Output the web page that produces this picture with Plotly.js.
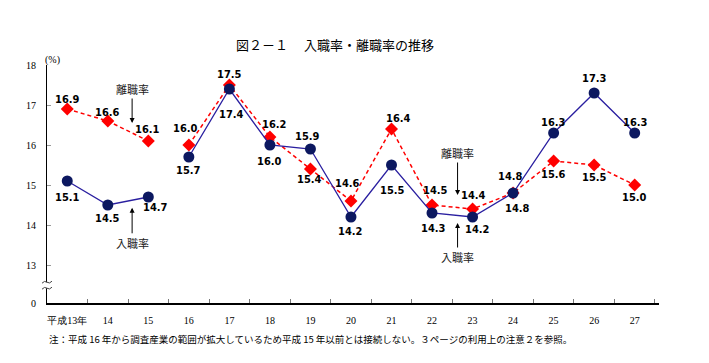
<!DOCTYPE html>
<html>
<head>
<meta charset="utf-8">
<script src="https://cdn.plot.ly/plotly-3.0.1.min.js"></script>
<style>html,body{margin:0;padding:0;background:#fff;}#chart{width:709px;height:363px;}</style>
</head>
<body>
<div id="chart"></div>
<script>
// ---- data ----
const categories = ['平成13年','14','15','16','17','18','19','20','21','22','23','24','25','26','27'];
const hireRate = [15.1, 14.5, 14.7, 15.7, 17.4, 16.0, 15.9, 14.2, 15.5, 14.3, 14.2, 14.8, 16.3, 17.3, 16.3];
const sepRate  = [16.9, 16.6, 16.1, 16.0, 17.5, 16.2, 15.4, 14.6, 16.4, 14.5, 14.4, 14.8, 15.6, 15.5, 15.0];
const yTickVals = [12.05, 13, 14, 15, 16, 17, 18];
const yTickText = ['0', '13', '14', '15', '16', '17', '18'];
const splitIndex = 3; // series not connected between 15 and 16

// ---- label offsets (style, pixels) ----
const hireLabelDy = [-16, -13, -10, -13, -25, -16, 13, -14, -25, -15, -12, -15, 11, 15, 11];
const hireLabelDx = [0, 0, 7, 0, 2, 0, -3, 0, 1, 1, 5, 4, 0, 0, 1];
const sepLabelDy  = [10, 9, 12, 17, 11, 13, -10, 18, 11, 15, 14, 17, -13, -12, -12];
const sepLabelDx  = [0, 0, -1, -3, 0, 5, -1, -3, 7, 3, 1, -3, 0, 0, 0];

const blueLine = '#2a1fa0', blueMarker = '#0c1860', red = '#ff0000';
const serif = 'Liberation Serif, Times New Roman, serif';
const jp = 'Noto Sans CJK JP, sans-serif';
const lblFont = {family: 'Liberation Sans Narrow, DejaVu Sans Condensed, Arial, sans-serif', size: 11, color: '#000', weight: 'bold'};

function seg(arr, a, b) { return arr.slice(a, b); }
const traces = [];
[[0, splitIndex], [splitIndex, categories.length]].forEach(([a, b]) => {
  traces.push({x: seg(categories, a, b), y: seg(sepRate, a, b), type: 'scatter', mode: 'lines+markers',
    line: {color: red, width: 1.5, dash: '4px,3px'}, marker: {symbol: 'diamond', size: 10, color: red}, showlegend: false, hoverinfo: 'skip'});
  traces.push({x: seg(categories, a, b), y: seg(hireRate, a, b), type: 'scatter', mode: 'lines+markers',
    line: {color: blueLine, width: 1.3}, marker: {symbol: 'circle', size: 11, color: blueMarker}, showlegend: false, hoverinfo: 'skip'});
});

const annotations = [];
categories.forEach((c, i) => {
  annotations.push({x: i, y: hireRate[i], xref: 'x', yref: 'y', text: hireRate[i].toFixed(1), showarrow: false,
    yshift: hireLabelDy[i], xshift: hireLabelDx[i], font: lblFont});
  annotations.push({x: i, y: sepRate[i], xref: 'x', yref: 'y', text: sepRate[i].toFixed(1), showarrow: false,
    yshift: sepLabelDy[i], xshift: sepLabelDx[i], font: lblFont});
});
const arrowFont = {family: jp, size: 11, color: '#222'};
function pointer(text, x, y, ay) {
  annotations.push({x: x, y: y, xref: 'x', yref: 'y', text: text, showarrow: true, ax: 0, ay: ay,
    arrowhead: 2, arrowsize: 1, arrowwidth: 1, arrowcolor: '#000', font: arrowFont, standoff: 0});
}
pointer('離職率', 1.6, 16.55, -34);
pointer('入職率', 1.6, 14.43, 35);
pointer('離職率', 9.63, 14.75, -42);
pointer('入職率', 9.63, 14.05, 34);

annotations.push({xref: 'paper', yref: 'paper', x: 0, y: 1, yshift: 13, xshift: -4, text: '(%)', showarrow: false,
  font: {family: serif, size: 10, color: '#000'}});
annotations.push({xref: 'paper', yref: 'paper', x: 0.47, y: 1, yshift: 32, xanchor: 'center', text: '図２－１　 入職率・離職率の推移', showarrow: false,
  font: {family: jp, size: 13, color: '#000'}});
annotations.push({xref: 'paper', yref: 'paper', x: 0, y: 0, xanchor: 'left', yshift: -45, text: '注：平成 16 年から調査産業の範囲が拡大しているため平成 15 年以前とは接続しない。３ページの利用上の注意２を参照。', showarrow: false,
  font: {family: jp, size: 9.5, color: '#000'}});

const shapes = [
  {type: 'rect', xref: 'paper', yref: 'y', xsizemode: 'pixel', xanchor: 0, x0: -6, x1: 6, y0: 12.42, y1: 12.57, fillcolor: '#fff', line: {width: 0}, layer: 'above'},
  {type: 'path', xref: 'paper', yref: 'y', xsizemode: 'pixel', xanchor: 0, ysizemode: 'pixel', yanchor: 12.57,
    path: 'M -5 -1 Q -2.5 2 0 0 Q 2.5 -2 5 1', line: {color: '#444', width: 1}},
  {type: 'path', xref: 'paper', yref: 'y', xsizemode: 'pixel', xanchor: 0, ysizemode: 'pixel', yanchor: 12.42,
    path: 'M -5 -1 Q -2.5 2 0 0 Q 2.5 -2 5 1', line: {color: '#444', width: 1}}
];

const layout = {
  width: 709, height: 363,
  margin: {l: 47, r: 50, t: 65, b: 60, pad: 0},
  paper_bgcolor: '#fff', plot_bgcolor: '#fff',
  showlegend: false,
  xaxis: {type: 'category', categoryorder: 'array', categoryarray: categories, range: [-0.5, 14.6],
    showline: true, linecolor: '#000', linewidth: 1.5, showgrid: false, zeroline: false,
    ticks: 'inside', ticklen: 4, tickcolor: '#777', tickson: 'boundaries', tickangle: 0,
    tickfont: {family: serif, size: 10, color: '#000'}, ticklabelstandoff: 7, fixedrange: true},
  yaxis: {range: [12.05, 18], tickvals: yTickVals, ticktext: yTickText,
    showline: true, linecolor: '#000', linewidth: 1, showgrid: false, zeroline: false,
    ticks: 'inside', ticklen: 4, tickcolor: '#999',
    tickfont: {family: serif, size: 10, color: '#000'}, ticklabelstandoff: 8, fixedrange: true},
  annotations: annotations,
  shapes: shapes
};
Plotly.newPlot('chart', traces, layout, {staticPlot: true, displayModeBar: false});
</script>
</body>
</html>
